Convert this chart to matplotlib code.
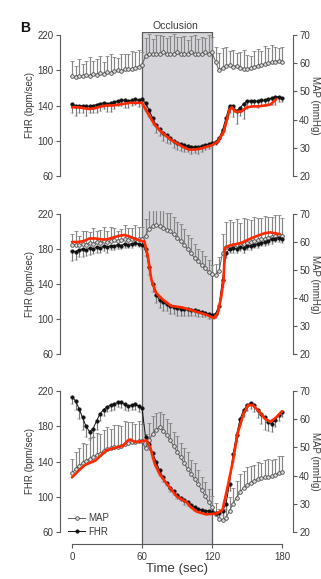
import numpy as np
import matplotlib
matplotlib.use("Agg")
import matplotlib.pyplot as plt

plt.rcParams['font.family'] = ['Liberation Sans', 'DejaVu Sans']

# ---------------------------------------------------------------- data
time = np.arange(0, 181, 3)  # sec

# Panel 1
fhr_1 = [142, 140, 139, 140, 139, 139, 140, 141, 142, 143,
         142, 143, 144, 145, 146, 146, 145, 146, 147, 146,
         147, 143, 135, 126, 118, 113, 109, 106, 103, 100,
         98, 96, 95, 94, 93, 93, 93, 94, 95, 96,
         97, 99, 103, 112, 126, 140, 139, 134, 137, 142,
         145, 145, 145, 145, 146, 146, 147, 148, 150, 150,
         149]
fhr_err_1 = [10, 12, 8, 9, 11, 7, 9, 10, 8, 7,
             9, 10, 8, 6, 7, 9, 8, 7, 6, 8,
             7, 9, 8, 8, 9, 8, 9, 8, 7, 8,
             9, 8, 8, 7, 8, 7, 8, 7, 6, 5,
             5, 4, 4, 5, 6, 8, 12, 15, 9, 17,
             9, 7, 6, 8, 7, 6, 5, 7, 9, 6,
             5]
map_1 = [55.3, 55.0, 55.6, 55.3, 55.9, 55.6, 56.3, 55.9, 56.6, 56.3,
         56.9, 56.6, 57.2, 57.5, 57.2, 57.8, 58.1, 57.8, 58.4, 58.8,
         59.4, 62.5, 63.4, 63.1, 63.4, 63.1, 63.8, 63.4, 63.1, 63.4,
         63.8, 63.4, 63.1, 63.4, 63.8, 63.4, 63.1, 63.4, 63.8, 63.4,
         63.8, 60.6, 57.5, 58.4, 59.1, 59.4, 58.8, 59.1, 58.4, 58.1,
         57.8, 58.4, 58.8, 59.1, 59.4, 59.7, 60.0, 60.3, 60.6, 60.9,
         60.6]
map_err_1 = [5.5, 4.0, 6.0, 4.5, 5.0, 6.5, 4.5, 5.5, 6.0, 4.0,
             5.5, 6.5, 5.0, 4.5, 6.0, 5.5, 5.0, 6.5, 5.5, 6.0,
             4.5, 6.5, 7.0, 5.5, 6.5, 7.0, 6.0, 5.5, 6.5, 7.0,
             5.5, 6.0, 6.5, 5.0, 6.0, 6.5, 5.5, 6.0, 5.0, 6.5,
             5.5, 5.0, 6.0, 7.0, 6.5, 5.0, 6.0, 4.5, 5.5, 6.5,
             5.0, 4.0, 5.5, 6.0, 5.0, 6.5, 5.5, 6.0, 5.0, 4.5,
             5.0]
fit_t_1 = [0, 5, 10, 15, 20, 25, 30, 35, 40, 45, 50, 55, 60,
           65, 70, 75, 80, 85, 90, 95, 100, 105, 110, 115, 120, 125, 130, 135,
           137, 140, 145, 150, 155, 160, 165, 170, 175]
fit_1 = [138, 138, 137, 136, 137, 139, 140, 140, 141, 142, 143, 143, 143,
         131, 120, 112, 106, 101, 97, 93, 90, 90, 91, 93, 95, 99, 110, 135,
         138, 133, 133, 138, 139, 139, 140, 141, 147]

# Panel 2
fhr_2 = [178, 177, 179, 180, 179, 181, 180, 182, 181, 183,
         182, 184, 183, 185, 184, 186, 185, 186, 187, 186,
         185, 180, 160, 140, 128, 122, 119, 117, 115, 114,
         113, 112, 111, 111, 110, 110, 109, 108, 107, 106,
         105, 106, 115, 145, 175, 180, 181, 180, 182, 181,
         183, 184, 185, 186, 187, 188, 189, 191, 192, 193,
         191]
fhr_err_2 = [12, 10, 8, 9, 7, 8, 6, 7, 6, 5,
             6, 5, 4, 5, 4, 5, 4, 5, 4, 4,
             5, 8, 10, 9, 10, 9, 10, 8, 9, 8,
             9, 8, 7, 8, 7, 6, 7, 6, 5, 6,
             5, 5, 6, 8, 5, 4, 5, 4, 4, 5,
             4, 5, 4, 5, 4, 5, 4, 5, 4, 5,
             4]
map_2 = [58.8, 59.1, 58.8, 59.4, 59.1, 59.7, 59.4, 60.0, 59.7, 60.3,
         60.0, 60.3, 60.6, 60.3, 60.6, 60.9, 60.6, 60.9, 61.2, 60.9,
         61.2, 62.2, 64.7, 65.6, 65.9, 65.6, 65.0, 64.4, 63.8, 62.8,
         61.6, 60.3, 59.1, 57.5, 55.9, 54.4, 53.1, 51.9, 50.6, 49.4,
         48.4, 48.1, 49.7, 55.9, 58.1, 58.4, 58.8, 59.1, 58.8, 59.4,
         59.7, 60.0, 60.3, 60.6, 60.9, 61.2, 61.6, 61.9, 62.2, 62.5,
         62.2]
map_err_2 = [4, 5, 3.5, 4.5, 5, 4, 5.5, 4, 4.5, 5,
             4, 5, 4.5, 3.5, 4, 5, 4.5, 4, 5, 4.5,
             4, 6, 7, 6.5, 7, 6.5, 7, 6, 6.5, 6,
             5.5, 6, 5.5, 5, 5.5, 5, 4.5, 5, 4.5, 4,
             3.5, 4, 5, 7, 9, 9.5, 8.5, 9, 8, 9,
             8.5, 8, 8.5, 8, 7.5, 8, 7.5, 7, 7.5, 7,
             6.5]
fit_t_2 = [0, 5, 10, 15, 20, 25, 30, 35, 40, 45,
           50, 55, 60, 62, 65, 68, 72, 78, 85, 95,
           105, 115, 120, 122, 125, 128, 130, 131, 135, 145,
           155, 165, 170, 178]
fit_2 = [188, 188, 189, 192, 192, 191, 191, 193, 195, 196,
         194, 191, 189, 189, 172, 145, 130, 122, 115, 113,
         109, 105, 102, 101, 107, 126, 145, 181, 184, 187,
         193, 198, 199, 197]

# Panel 3
fhr_3 = [213, 209, 200, 190, 180, 174, 177, 186, 194, 199,
         202, 204, 205, 207, 207, 205, 203, 204, 205, 203,
         201, 168, 160, 150, 140, 130, 122, 116, 110, 106,
         102, 99, 96, 94, 91, 88, 86, 85, 84, 84,
         83, 82, 82, 84, 92, 115, 148, 170, 188, 198,
         204, 206, 204, 199, 194, 190, 185, 183, 187, 193,
         196]
fhr_err_3 = [8, 10, 12, 14, 12, 10, 9, 10, 8, 7,
             6, 7, 6, 5, 6, 7, 6, 5, 6, 7,
             6, 8, 7, 6, 5, 6, 5, 4, 5, 4,
             5, 4, 5, 4, 3, 4, 3, 4, 3, 4,
             3, 4, 5, 6, 7, 8, 9, 8, 7, 8,
             7, 6, 8, 10, 12, 14, 10, 9, 8, 7,
             6]
map_3 = [40.9, 42.2, 43.4, 44.4, 45.3, 45.9, 46.6, 47.2, 47.8, 48.8,
         49.4, 49.7, 50.0, 50.3, 50.6, 51.3, 51.6, 51.9, 51.9, 52.2,
         52.2, 49.7, 52.5, 54.7, 56.3, 57.2, 55.9, 54.4, 52.5, 50.6,
         48.4, 46.6, 44.4, 42.5, 40.6, 38.8, 36.9, 35.0, 32.8, 30.6,
         28.8, 26.3, 24.7, 24.1, 25.0, 27.5, 30.0, 32.2, 34.1, 35.6,
         36.6, 37.5, 38.1, 38.8, 39.1, 39.4, 39.4, 39.7, 40.3, 40.9,
         41.3]
map_err_3 = [5, 6, 6.5, 7, 6, 7.5, 7, 8, 7, 7.5,
             8, 7, 8, 7.5, 7, 8, 7.5, 7, 6.5, 7,
             6, 5, 6, 6.5, 6, 5.5, 6, 5.5, 6, 5,
             5.5, 5, 5.5, 6, 5, 5.5, 5, 4.5, 5, 4.5,
             4, 4, 3.5, 4, 4.5, 5, 5.5, 6, 6.5, 6,
             6.5, 6, 5.5, 6, 5.5, 6, 6.5, 6, 5.5, 6,
             5.5]
fit_t_3 = [0, 6, 11, 20, 24, 30, 38, 44, 48, 50,
           54, 60, 64, 67, 71, 75, 81, 90, 98, 102,
           107, 115, 124, 129, 134, 138, 142, 147, 151, 155,
           161, 165, 170, 175, 180]
fit_3 = [122, 130, 136, 141, 146, 153, 156, 158, 164, 165,
         162, 163, 164, 156, 137, 126, 115, 100, 94, 88,
         83, 80, 81, 85, 115, 141, 172, 194, 204, 204,
         196, 189, 185, 190, 197]

occlusion = (60, 120)
fhr_ticks = [60, 100, 140, 180, 220]
map_ticks = [20, 30, 40, 50, 60, 70]
time_ticks = [0, 60, 120, 180]

# ---------------------------------------------------------------- layout
W, H = 321, 579
fig = plt.figure(figsize=(W / 100, H / 100), dpi=100)
fig.patch.set_facecolor('white')

AX_L, AX_R = 60, 293          # pixel x of left / right spines
X0_PX, X180_PX = 72, 282      # pixel x of t=0 and t=180
sx = (X180_PX - X0_PX) / 180
xlim = (-(X0_PX - AX_L) / sx, 180 + (AX_R - X180_PX) / sx)

SPINE = '#5a5a5a'
TXT = '#3a3a3a'
SHADE = '#d5d5da'
RED = '#ff2a00'
FS = 7


def fhr_to_map(v):
    return 20 + (v - 60) * 50 / 160


# shaded occlusion band spanning all three panels
bg = fig.add_axes([AX_L / W, 1 - 544 / H, (AX_R - AX_L) / W, (544 - 32) / H])
bg.set_xlim(*xlim)
bg.set_ylim(0, 1)
bg.axvspan(*occlusion, color=SHADE, lw=0)
bg.plot([occlusion[0], occlusion[0], occlusion[1], occlusion[1]], [0, 1, 1, 0],
        color=SPINE, lw=0.9)
bg.axis('off')
bg.set_zorder(0)

panels = [
    dict(top=35, bot=176, ylim=(56, 224), fhr=fhr_1, fe=fhr_err_1, mp=map_1, me=map_err_1,
         ft=fit_t_1, fv=fit_1),
    dict(top=214, bot=354, ylim=(56, 224), fhr=fhr_2, fe=fhr_err_2, mp=map_2, me=map_err_2,
         ft=fit_t_2, fv=fit_2),
    dict(top=391, bot=532, ylim=(46.4, 224), fhr=fhr_3, fe=fhr_err_3, mp=map_3, me=map_err_3,
         ft=fit_t_3, fv=fit_3),
]

zeros = np.zeros(len(time))
for i, p in enumerate(panels):
    assert len(p['fhr']) == len(time) == len(p['fe']) == len(p['mp']) == len(p['me'])
    assert len(p['ft']) == len(p['fv'])
    scale = (p['bot'] - p['top']) / 160
    lo, hi = p['ylim']
    top_px = p['top'] - (hi - 220) * scale
    bot_px = p['bot'] + (60 - lo) * scale
    ax = fig.add_axes([AX_L / W, 1 - bot_px / H, (AX_R - AX_L) / W, (bot_px - top_px) / H])
    ax2 = ax.twinx()
    ax.set_zorder(3)
    ax2.set_zorder(2)
    ax.patch.set_visible(False)
    ax2.patch.set_visible(False)

    ax.set_xlim(*xlim)
    ax.set_ylim(lo, hi)
    ax2.set_ylim(fhr_to_map(lo), fhr_to_map(hi))

    # MAP: open grey circles, upward error bars
    emap = ax2.errorbar(time, p['mp'], yerr=[zeros, p['me']], fmt='-o', color='#5e5e5e',
                        lw=0.7, ms=2.6, mfc='#e0e0e0', mec='#4a4a4a', mew=0.6,
                        ecolor='#858585', elinewidth=0.85, capsize=1.3, capthick=0.6,
                        label='MAP')
    # FHR: filled black dots, downward error bars
    efhr = ax.errorbar(time, p['fhr'], yerr=[p['fe'], zeros], fmt='-o', color='#111111',
                       lw=0.7, ms=2.6, mfc='#111111', mec='#111111', mew=0.3,
                       ecolor='#7a7a7a', elinewidth=0.85, capsize=1.3, capthick=0.6,
                       label='FHR')
    ax.plot(p['ft'], p['fv'], color=RED, lw=1.9, solid_capstyle='round',
            solid_joinstyle='round', zorder=5)

    for a in (ax, ax2):
        a.spines['top'].set_visible(False)
        for s in a.spines.values():
            s.set_color(SPINE)
            s.set_linewidth(0.8)
    ax.spines['right'].set_visible(False)
    ax2.spines['left'].set_visible(False)
    ax.spines['left'].set_bounds(60, 220)
    ax2.spines['right'].set_bounds(20, 70)
    ax2.spines['bottom'].set_visible(False)

    ax.set_yticks(fhr_ticks)
    ax2.set_yticks(map_ticks)
    ax.tick_params(axis='y', direction='out', length=3, width=0.8, color=SPINE,
                   labelsize=FS, labelcolor=TXT, pad=1.5)
    ax2.tick_params(axis='y', direction='out', length=3, width=0.8, color=SPINE,
                    labelsize=FS, labelcolor=TXT, pad=1.5)

    if i < 2:
        ax.spines['bottom'].set_visible(False)
        ax.set_xticks([])
    else:
        ax.spines['bottom'].set_bounds(0, 180)
        ax.set_xticks(time_ticks)
        ax.tick_params(axis='x', direction='out', length=3, width=0.8, color=SPINE,
                       labelsize=FS, labelcolor=TXT, pad=2.5)
        ax.set_xlabel('Time (sec)', fontsize=9.5, color=TXT, labelpad=1)
        ax.legend([emap[0], efhr[0]], ['MAP', 'FHR'], loc='lower left',
                  bbox_to_anchor=(0.025, 0.035), frameon=False, fontsize=FS,
                  handlelength=1.8, handletextpad=0.3, labelspacing=0.35,
                  borderpad=0.2, borderaxespad=0.0, labelcolor=TXT)

    yc = 1 - (p['top'] + p['bot']) / 2 / H
    fig.text(30 / W, yc, 'FHR (bpm/sec)', rotation=90, ha='center', va='center',
             fontsize=FS, color=TXT)
    fig.text(315.5 / W, yc, 'MAP (mmHg)', rotation=270, ha='center', va='center',
             fontsize=FS, color=TXT)

fig.text(20 / W, 1 - 32 / H, 'B', fontsize=10, fontweight='bold', ha='left',
         va='baseline', color='#111111')
fig.text(175 / W, 1 - 29 / H, 'Occlusion', fontsize=7.5, ha='center', va='baseline',
         color=TXT)

fig.savefig('out.png', dpi=100)
